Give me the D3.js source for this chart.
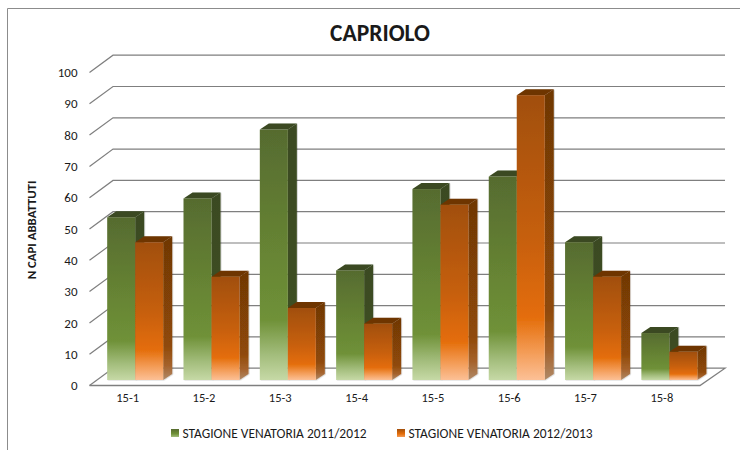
<!DOCTYPE html>
<html>
<head>
<meta charset="utf-8">
<script src="https://cdn.jsdelivr.net/npm/d3@7"></script>
<style>
html,body{margin:0;padding:0;background:#fff}
svg{display:block}
text{font-family:Carlito,Lato,"Open Sans",sans-serif;fill:#1a1a1a}
</style>
</head>
<body>
<svg id="chart" width="740" height="450"></svg>
<script>
// Roe deer culled per management district, two hunting seasons
const categories = ["15-1","15-2","15-3","15-4","15-5","15-6","15-7","15-8"];
const season2011 = [52,58,80,35,61,65,44,15];
const season2012 = [44,33,23,18,56,91,33,9];
const yTicks = [0,10,20,30,40,50,60,70,80,90,100];
const seriesNames = ["STAGIONE VENATORIA 2011/2012","STAGIONE VENATORIA 2012/2013"];

const svg = d3.select("#chart");
const defs = svg.append("defs");

// Frame of the 3D box: front edge of the floor and offset of the back wall
const wallDX = 23.5, wallDY = -17.3;
const x = d3.scaleBand().domain(categories).range([89.5, 700]);
const y = d3.scaleLinear().domain([0, 100]).range([385.5, 72.5]);

// Bar geometry relative to the front plane
const barW = 28, barLeft = 17.7, barDX = 9, barDY = -6, barLift = -5.5;

function gradient(id, stops) {
  const g = defs.append("linearGradient").attr("id", id)
    .attr("x1", 0).attr("y1", 0).attr("x2", 0).attr("y2", 1);
  stops.forEach(([o, c]) => g.append("stop").attr("offset", o).attr("stop-color", c));
}
gradient("greenFront", [[0,"#566b2f"],[0.5,"#678534"],[0.76,"#6f9138"],[0.9,"#a3bd7c"],[1,"#c6d9a6"]]);
gradient("greenSide",  [[0,"#3b4a22"],[0.76,"#3d4f21"],[0.9,"#5d7040"],[1,"#8a9a70"]]);
gradient("orangeFront",[[0,"#a14f0c"],[0.5,"#c65f08"],[0.78,"#e46d09"],[0.9,"#f39b55"],[1,"#fcc096"]]);
gradient("orangeSide", [[0,"#6f3706"],[0.76,"#8f4907"],[0.9,"#a5622c"],[1,"#b08a68"]]);
gradient("greenKey",   [[0,"#566b2f"],[0.6,"#6f9138"],[1,"#a3bd7c"]]);
gradient("orangeKey",  [[0,"#a14f0c"],[0.6,"#e46d09"],[1,"#f39b55"]]);

const soft = defs.append("filter").attr("id","barEdge")
  .attr("x","-10%").attr("y","-10%").attr("width","125%").attr("height","120%");
soft.append("feDropShadow").attr("dx",0.8).attr("dy",0.4).attr("stdDeviation",0.6)
  .attr("flood-color","#000").attr("flood-opacity",0.22);

// Outer frame: only top and left edges are visible
svg.append("path").attr("d","M7.5,450V8.5H740").attr("fill","none")
  .attr("stroke","#8c8c8c").attr("stroke-width",1);

// Gridlines: slanted on the side wall, horizontal on the back wall
const wall = svg.append("g").attr("fill","none").attr("stroke","#7f7f7f");
yTicks.forEach(t => {
  const line = d3.path();
  line.moveTo(89.5, y(t));
  line.lineTo(89.5 + wallDX, y(t) + wallDY);
  if (t > 0) line.lineTo(700 + wallDX + 1.5, y(t) + wallDY);
  wall.append("path").attr("d", line.toString()).attr("stroke-width", 1.2);
});
// Floor outline
const floor = d3.path();
floor.moveTo(89.5, y(0));
floor.lineTo(700, y(0));
floor.lineTo(700 + wallDX + 1.5, y(0) + wallDY);
floor.lineTo(89.5 + wallDX, y(0) + wallDY);
wall.append("path").attr("d", floor.toString()).attr("stroke-width", 1.3);

// One 3D bar: side, top, then front face
function drawBar(group, cat, value, slot, name) {
  const x0 = x(cat) + barLeft + slot * barW;
  const yTop = y(value) + barLift, yBase = y(0) + barLift;
  const g = group.append("g").attr("filter","url(#barEdge)");
  const side = d3.path();
  side.moveTo(x0 + barW, yTop);
  side.lineTo(x0 + barW + barDX, yTop + barDY);
  side.lineTo(x0 + barW + barDX, yBase + barDY);
  side.lineTo(x0 + barW, yBase);
  side.closePath();
  g.append("path").attr("d", side.toString()).attr("fill", `url(#${name}Side)`);
  const top = d3.path();
  top.moveTo(x0, yTop);
  top.lineTo(x0 + barDX, yTop + barDY);
  top.lineTo(x0 + barW + barDX, yTop + barDY);
  top.lineTo(x0 + barW, yTop);
  top.closePath();
  g.append("path").attr("d", top.toString()).attr("fill", name === "green" ? "#3a4a20" : "#6e3505");
  g.append("rect").attr("x", x0).attr("y", yTop).attr("width", barW)
    .attr("height", yBase - yTop).attr("fill", `url(#${name}Front)`);
}
const bars = svg.append("g");
categories.forEach((c, i) => {
  const group = bars.append("g");
  drawBar(group, c, season2011[i], 0, "green");
  drawBar(group, c, season2012[i], 1, "orange");
});

// Axes: labels only, the frame above carries the lines
const yAxis = d3.axisLeft(y).tickValues(yTicks).tickSize(0).tickPadding(12);
const gy = svg.append("g").attr("transform","translate(89.5,0)").call(yAxis);
gy.select(".domain").remove();
gy.selectAll("text").attr("font-size",13).style("font-family","Carlito,Lato,sans-serif").attr("fill","#1a1a1a");

const xAxis = d3.axisBottom(x).tickSize(0).tickPadding(8);
const gx = svg.append("g").attr("transform",`translate(0,${y(0)})`).call(xAxis);
gx.select(".domain").remove();
gx.selectAll("text").attr("font-size",12.5).style("font-family","Carlito,Lato,sans-serif").attr("fill","#1a1a1a");

// Title and axis caption
svg.append("text").attr("x",380).attr("y",41).attr("text-anchor","middle")
  .attr("font-size",23.5).attr("font-weight",700).attr("fill","#000").text("CAPRIOLO");
svg.append("text").attr("transform","translate(36,230) rotate(-90)").attr("text-anchor","middle")
  .attr("font-size",12.8).attr("font-weight",700).attr("fill","#000").text("N CAPI ABBATTUTI");

// Legend
const legendX = [171, 397];
seriesNames.forEach((name, i) => {
  svg.append("rect").attr("x",legendX[i]).attr("y",429).attr("width",8).attr("height",8)
    .attr("fill", i === 0 ? "url(#greenKey)" : "url(#orangeKey)");
  svg.append("text").attr("x",legendX[i] + 11.5).attr("y",437.5)
    .attr("font-size",13.45).text(name);
});
</script>
</body>
</html>
